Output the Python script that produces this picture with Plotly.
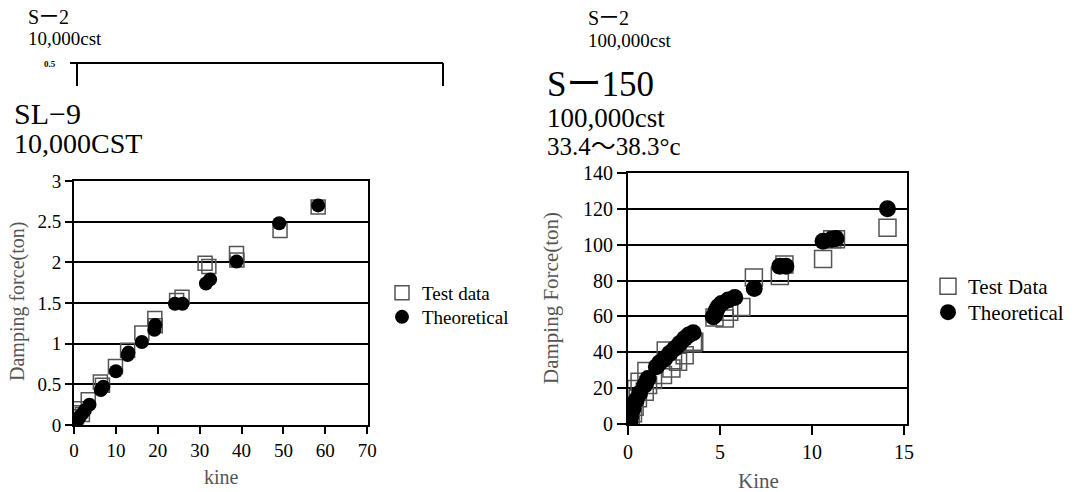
import plotly.graph_objects as go

# ---- data: left panel (SL-9, 10,000CST) ----
test_x_L = [0.3, 0.6, 1.0, 1.5, 2.0, 3.4, 6.3, 6.8, 9.9, 12.8, 16.2, 19.3, 19.4, 24.5, 25.8, 31.3, 32.2, 38.8, 38.9, 49.2, 58.3]
test_y_L = [0.05, 0.10, 0.15, 0.20, 0.13, 0.31, 0.53, 0.49, 0.72, 0.92, 1.13, 1.31, 1.22, 1.53, 1.57, 1.99, 1.95, 2.11, 2.03, 2.39, 2.68]
theo_x_L = [0.2, 0.6, 1.0, 1.4, 2.0, 2.6, 3.7, 6.4, 7.0, 10.0, 12.8, 13.0, 16.2, 19.2, 19.4, 24.1, 25.9, 31.5, 32.5, 38.8, 49.0, 58.3]
theo_y_L = [0.02, 0.05, 0.08, 0.10, 0.14, 0.18, 0.25, 0.43, 0.47, 0.66, 0.86, 0.89, 1.02, 1.17, 1.23, 1.49, 1.49, 1.74, 1.79, 2.01, 2.48, 2.70]

# ---- data: right panel (S-150, 100,000cst) ----
test_x_R = [0.15, 0.27, 0.36, 0.45, 0.54, 0.63, 0.91, 1.0, 1.09, 1.36, 1.9, 2.05, 2.36, 2.45, 2.72, 3.08, 3.53, 3.6, 4.7, 5.26, 5.5, 6.16, 6.84, 8.25, 8.5, 10.6, 11.1, 11.3, 14.1]
test_y_R = [2, 6.0, 9.6, 19.5, 14.3, 23.6, 18, 29.5, 21.7, 24.5, 27.3, 41, 31.0, 35.6, 34.7, 38.4, 45.0, 45.9, 59.4, 58.9, 62.6, 65.3, 81.7, 82.6, 89, 92.1, 103, 103, 109.4]
theo_x_R = [0.1, 0.15, 0.27, 0.45, 0.63, 0.91, 1.09, 1.54, 1.72, 2.0, 2.27, 2.54, 2.81, 3.08, 3.3, 3.54, 4.63, 4.7, 4.8, 4.9, 5.08, 5.44, 5.8, 6.86, 8.25, 8.58, 10.6, 11.07, 11.3, 14.1]
theo_y_R = [1.3, 4.1, 8.7, 13.4, 17.1, 21.7, 25.4, 31.9, 34.2, 36.6, 39.4, 42.1, 44.9, 47.7, 49.6, 50.9, 59.8, 60.7, 63.5, 65.4, 67.2, 69.1, 70.6, 75.6, 88, 88, 101.9, 103, 103.4, 120.1]

ticks_xL = [0, 10, 20, 30, 40, 50, 60, 70]
ticks_yL = [0, 0.5, 1, 1.5, 2, 2.5, 3]
ticks_xR = [0, 5, 10, 15]
ticks_yR = [0, 20, 40, 60, 80, 100, 120, 140]

SERIF = "Liberation Serif, DejaVu Serif, Noto Sans CJK JP, serif"
W, H = 1077, 492

fig = go.Figure()

fig.add_trace(go.Scatter(x=test_x_L, y=test_y_L, mode="markers", name="Test data",
                         marker=dict(symbol="square-open", size=14, color="#555", line=dict(width=1.5, color="#555")),
                         xaxis="x", yaxis="y", legend="legend"))
fig.add_trace(go.Scatter(x=theo_x_L, y=theo_y_L, mode="markers", name="Theoretical",
                         marker=dict(symbol="circle", size=14, color="black"),
                         xaxis="x", yaxis="y", legend="legend2"))
fig.add_trace(go.Scatter(x=test_x_R, y=test_y_R, mode="markers", name="Test Data",
                         marker=dict(symbol="square-open", size=17, color="#555", line=dict(width=1.5, color="#555")),
                         xaxis="x2", yaxis="y2", legend="legend3"))
fig.add_trace(go.Scatter(x=theo_x_R, y=theo_y_R, mode="markers", name="Theoretical",
                         marker=dict(symbol="circle", size=17, color="black"),
                         xaxis="x2", yaxis="y2", legend="legend4"))

def px_x(p):
    return p / W

def px_y(p):
    return 1 - p / H

axis_common = dict(showline=True, linecolor="black", linewidth=2, mirror=True,
                   ticks="outside", tickwidth=2, tickcolor="black", zeroline=False,
                   automargin=False)

def leg(x, y, size):
    return dict(x=px_x(x), y=px_y(y), xanchor="left", yanchor="top",
                font=dict(family=SERIF, size=size, color="black"), bgcolor="rgba(0,0,0,0)",
                tracegroupgap=0, itemwidth=30)

fig.update_layout(
    width=W, height=H,
    margin=dict(l=0, r=0, t=0, b=0),
    paper_bgcolor="white", plot_bgcolor="white",
    font=dict(family=SERIF, color="black"),
    xaxis=dict(domain=[px_x(74), px_x(368)], range=[0, 70.2], tickvals=ticks_xL, showgrid=False,
               anchor="y", ticklen=7, tickfont=dict(family=SERIF, size=19, color="black"), **axis_common),
    yaxis=dict(domain=[px_y(425), px_y(181)], range=[0, 3], tickvals=ticks_yL, showgrid=True,
               gridcolor="black", gridwidth=2, anchor="x", ticklen=7,
               tickfont=dict(family=SERIF, size=19, color="black"), **axis_common),
    xaxis2=dict(domain=[px_x(628), px_x(907)], range=[0, 15.16], tickvals=ticks_xR, showgrid=False,
                anchor="y2", ticklen=9, tickfont=dict(family=SERIF, size=20, color="black"), **axis_common),
    yaxis2=dict(domain=[px_y(424), px_y(173)], range=[0, 140], tickvals=ticks_yR, showgrid=True,
                gridcolor="black", gridwidth=2, anchor="x2", ticklen=9,
                tickfont=dict(family=SERIF, size=20, color="black"), **axis_common),
    legend=leg(382, 274, 19),
    legend2=leg(382, 298, 19),
    legend3=leg(928, 266, 21),
    legend4=leg(928, 292, 21),
    showlegend=True,
)

def text(x, y, s, size, color="black", xanchor="left", angle=0):
    fig.add_annotation(x=px_x(x), y=px_y(y), xref="paper", yref="paper", text=s, showarrow=False,
                       xanchor=xanchor, yanchor="middle", textangle=angle, borderpad=0,
                       font=dict(family=SERIF, size=size, color=color))

# headers left
text(27, 17, "Sー2", 20)
text(27, 38, "10,000cst", 19)
text(13, 114, "SL−9", 30)
text(13, 143, "10,000CST", 28)
text(57, 64, "<b>0.5</b>", 9, xanchor="right")
# headers right
text(587, 18, "Sー2", 20)
text(587, 40, "100,000cst", 19)
text(546, 85, "Sー150", 35)
text(546, 118, "100,000cst", 27)
text(546, 146, "33.4〜38.3°c", 25)

# axis titles
text(17, 302, "Damping force(ton)", 20, color="#555", xanchor="center", angle=-90)
text(221, 477, "kine", 20, color="#555", xanchor="center")
text(551, 298, "Damping Force(ton)", 21, color="#555", xanchor="center", angle=-90)
text(758, 481, "Kine", 21, color="#555", xanchor="center")

# stray bracket at top-left
for (x0, y0, x1, y1) in [(70, 63, 443, 63), (77, 63, 77, 86), (443, 63, 443, 86)]:
    fig.add_shape(type="line", xref="paper", yref="paper",
                  x0=px_x(x0), y0=px_y(y0), x1=px_x(x1), y1=px_y(y1),
                  line=dict(color="black", width=2))

fig.write_html("out.html", config={"displayModeBar": False},
               post_script="document.body.style.margin='0';document.body.style.overflow='hidden';")
